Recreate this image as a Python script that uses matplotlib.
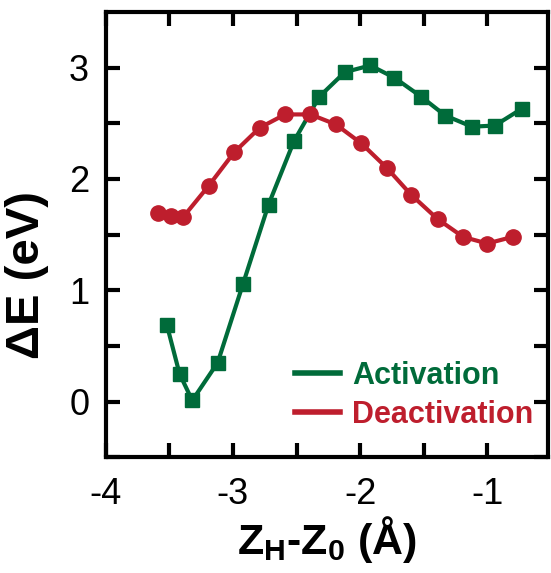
import matplotlib.pyplot as plt
from matplotlib.lines import Line2D

plt.rcParams['font.family'] = ['Liberation Sans', 'DejaVu Sans']
plt.rcParams['mathtext.fontset'] = 'custom'
plt.rcParams['mathtext.rm'] = 'Liberation Sans'
plt.rcParams['mathtext.bf'] = 'Liberation Sans:bold'
plt.rcParams['axes.unicode_minus'] = False

# Activation (green squares)
act_x = [-3.52, -3.42, -3.32, -3.12, -2.92, -2.72, -2.52, -2.32, -2.12, -1.92,
         -1.73, -1.52, -1.33, -1.12, -0.94, -0.73]
act_y = [0.69, 0.25, 0.01, 0.35, 1.06, 1.77, 2.34, 2.74, 2.96, 3.02,
         2.91, 2.74, 2.57, 2.47, 2.48, 2.63]

# Deactivation (red circles)
deact_x = [-3.59, -3.49, -3.39, -3.19, -2.99, -2.79, -2.59, -2.39, -2.19, -1.99,
           -1.79, -1.60, -1.39, -1.19, -1.00, -0.80]
deact_y = [1.69, 1.67, 1.66, 1.94, 2.24, 2.46, 2.58, 2.58, 2.49, 2.32,
           2.10, 1.86, 1.64, 1.48, 1.42, 1.48]

green = '#006b3a'
red = '#be1e2d'

fig = plt.figure(figsize=(5.51, 5.73), dpi=100)
ax = fig.add_axes([0.192, 0.202, 0.803, 0.777])

ax.plot(act_x, act_y, '-s', color=green, lw=3, ms=10)
ax.plot(deact_x, deact_y, '-o', color=red, lw=3, ms=11)

ax.set_xlim(-4, -0.52)
ax.set_ylim(-0.5, 3.5)
ax.set_xticks([-4, -3, -2, -1])
ax.set_xticks([-3.5, -2.5, -1.5], minor=True)
ax.set_yticks([0, 1, 2, 3])
ax.set_yticks([-0.5, 0.5, 1.5, 2.5], minor=True)

for s in ax.spines.values():
    s.set_linewidth(3)
ax.tick_params(which='both', direction='in', top=True, right=True,
               length=10, width=3, labelsize=26)
ax.tick_params(axis='x', which='both', pad=14)
ax.tick_params(axis='y', which='both', pad=12)

ax.set_ylabel('ΔE (eV)', fontsize=34, fontweight='bold')
ax.yaxis.set_label_coords(-0.128, 0.41)
ax.set_xlabel(r'$\mathbf{Z}_\mathbf{H}$-$\mathbf{Z}_\mathbf{0}$ (Å)',
              fontsize=31, fontweight='bold', labelpad=2)

handles = [Line2D([], [], color=green, lw=4), Line2D([], [], color=red, lw=4)]
leg = ax.legend(handles, ['Activation', 'Deactivation'], loc='lower right',
                bbox_to_anchor=(1.028, 0.0), frameon=False, handlelength=1.45,
                handletextpad=0.4, labelspacing=0.3,
                prop={'size': 22, 'weight': 'bold'})
for t, c in zip(leg.get_texts(), [green, red]):
    t.set_color(c)

fig.savefig('out.png', dpi=100)
